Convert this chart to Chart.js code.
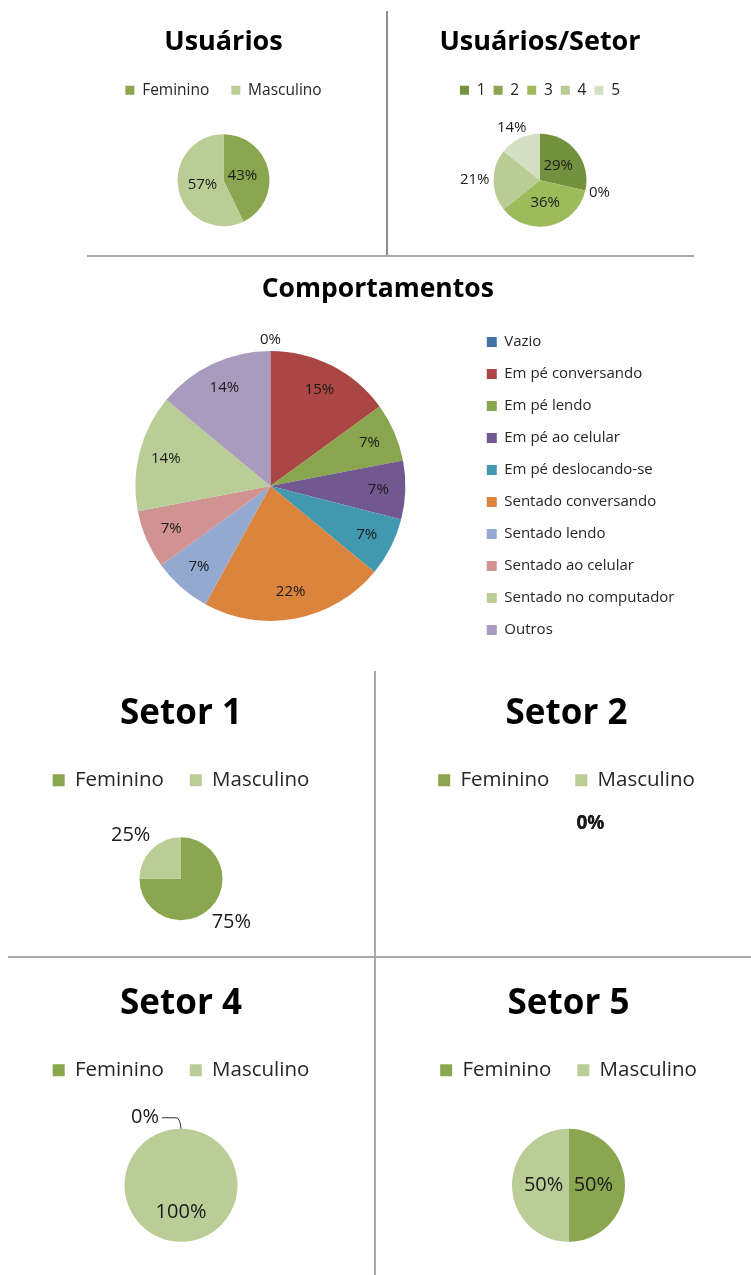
<!DOCTYPE html>
<html lang="pt-BR">
<head>
<meta charset="utf-8">
<title>Usuários e comportamentos</title>
<script src="https://cdn.jsdelivr.net/npm/chart.js@4.4.1/dist/chart.umd.min.js"></script>
<style>
  html, body { margin: 0; padding: 0; background: #fff; overflow: hidden; }
  body { position: relative; width: 751px; height: 1275px; }
  canvas { position: absolute; }
  .linha { position: absolute; background: #aaaaaa; }
</style>
</head>
<body>
<!-- linhas de separação entre os gráficos -->
<div class="linha" style="left:386px;top:11px;width:2px;height:245px;background:#8e8e8e"></div>
<div class="linha" style="left:87px;top:255px;width:607px;height:2px;"></div>
<div class="linha" style="left:374px;top:671px;width:2px;height:604px;"></div>
<div class="linha" style="left:8px;top:956px;width:743px;height:2px;"></div>

<canvas id="gUsuarios" width="327" height="245" style="left:60px;top:10px"></canvas>
<canvas id="gUsuariosSetor" width="306" height="245" style="left:390px;top:10px"></canvas>
<canvas id="gComportamentos" width="751" height="406" style="left:0px;top:258px"></canvas>
<canvas id="gSetor1" width="362" height="285" style="left:3px;top:672px"></canvas>
<canvas id="gSetor2" width="369" height="285" style="left:386px;top:672px"></canvas>
<canvas id="gSetor4" width="362" height="320" style="left:3px;top:960px"></canvas>
<canvas id="gSetor5" width="365" height="320" style="left:388px;top:960px"></canvas>

<script>
// Dados
const generos = ['Feminino', 'Masculino'];
const usuariosGenero = [6, 8];

const setores = ['1', '2', '3', '4', '5'];
const usuariosPorSetor = [4, 0, 5, 3, 2];

const comportamentos = [
    'Vazio', 'Em pé conversando', 'Em pé lendo', 'Em pé ao celular', 'Em pé deslocando-se',
    'Sentado conversando', 'Sentado lendo', 'Sentado ao celular', 'Sentado no computador', 'Outros'
];
const comportamentosPct = [0, 15, 7, 7, 7, 22, 7, 7, 14, 14];

const setor1Genero = [3, 1];
const setor2Genero = [0, 0];
const setor4Genero = [0, 3];
const setor5Genero = [1, 1];

// Cores
const corFeminino = '#8aa64e';
const corMasculino = '#bacd96';
const coresSetor = ['#74913f', '#8aa64e', '#9dbb5b', '#b9cc95', '#d4e0c3'];
const coresComportamentos = ['#4572a7', '#aa4643', '#89a54e', '#71588f', '#4198af',
    '#db843d', '#93a9cf', '#d19392', '#b9cd96', '#a99bbd'];

const fonte = "'Open Sans', sans-serif";
Chart.defaults.font.family = fonte;
Chart.defaults.animation = false;

// Plugin para escrever as porcentagens de cada fatia
// pos: número = dentro (fração do raio), 'fora' = fora da pizza, 'guia' = fora com linha guia
const rotulosPlugin = {
    id: 'rotulos',
    afterDatasetsDraw(chart, args, opts) {
        if (!opts.pos) return;
        const ctx = chart.ctx;
        const meta = chart.getDatasetMeta(0);
        const dados = chart.data.datasets[0].data;
        const total = dados.reduce((a, b) => a + b, 0);
        const folga = opts.folga || 4;
        const desloc = opts.desloc || 0;
        ctx.save();
        ctx.font = (opts.bold ? 'bold ' : '') + opts.size + 'px ' + fonte;
        ctx.fillStyle = '#1a1a1a';
        ctx.strokeStyle = '#333';
        ctx.lineWidth = 1;
        ctx.textBaseline = 'middle';
        ctx.textAlign = 'center';
        meta.data.forEach((arco, i) => {
            const pos = opts.pos[i];
            const texto = (total ? Math.round(dados[i] / total * 100) : 0) + '%';
            const a = (arco.startAngle + arco.endAngle) / 2;
            const c = Math.cos(a), s = Math.sin(a);
            const r = arco.outerRadius;
            const w = ctx.measureText(texto).width;
            const h = opts.size;
            if (pos === 'guia') {
                // rótulo com linha guia (fatia de 0%)
                const x0 = arco.x + c * r, y0 = arco.y + s * r;
                const x1 = x0 - 5, y1 = y0 - 11;
                const x2 = x1 - 14;
                ctx.beginPath();
                ctx.moveTo(x0, y0);
                ctx.quadraticCurveTo(x0 - 1, y1, x1, y1);
                ctx.lineTo(x2, y1);
                ctx.stroke();
                ctx.textAlign = 'right';
                ctx.fillText(texto, x2 - 3, y1);
                ctx.textAlign = 'center';
            } else if (pos === 'fora') {
                // fora da pizza
                const px = arco.x + c * (r + folga);
                const py = arco.y + s * (r + folga);
                ctx.fillText(texto, px + c * w / 2 + desloc, py + s * h / 2);
            } else {
                // dentro da pizza
                ctx.fillText(texto, arco.x + c * r * pos, arco.y + s * r * pos);
            }
        });
        ctx.restore();
    }
};

// Função para criar cada gráfico de pizza
function criarPizza(id, cfg) {
    const ctx = document.getElementById(id).getContext('2d');
    return new Chart(ctx, {
        type: 'pie',
        data: {
            labels: cfg.labels,
            datasets: [{
                data: cfg.data,
                backgroundColor: cfg.cores,
                borderWidth: 0,
                radius: cfg.raio
            }]
        },
        options: {
            responsive: false,
            events: [],
            layout: { padding: cfg.margem || 0 },
            plugins: {
                title: {
                    display: true,
                    text: cfg.titulo,
                    color: '#000',
                    font: { size: cfg.tituloTam, weight: 'bold', family: fonte },
                    padding: cfg.tituloPad
                },
                legend: {
                    position: cfg.legendaPos || 'top',
                    fullSize: cfg.legendaPos !== 'right',
                    labels: {
                        color: '#262626',
                        font: { size: cfg.legendaTam, family: fonte },
                        boxWidth: cfg.caixa,
                        boxHeight: cfg.caixa,
                        padding: cfg.legendaPad
                    }
                },
                tooltip: { enabled: false },
                rotulos: cfg.rotulos
            }
        },
        plugins: [rotulosPlugin]
    });
}

// Usuários
criarPizza('gUsuarios', {
    labels: generos, data: usuariosGenero, cores: [corFeminino, corMasculino], raio: 46,
    titulo: 'Usuários', tituloTam: 27, tituloPad: { top: 16, bottom: 2 },
    legendaTam: 15.5, caixa: 9, legendaPad: 22,
    margem: { bottom: 2.5 },
    rotulos: { size: 15, pos: [0.42, 0.47] }
});

// Usuários/Setor
criarPizza('gUsuariosSetor', {
    labels: setores, data: usuariosPorSetor, cores: coresSetor, raio: 46.5,
    titulo: 'Usuários/Setor', tituloTam: 27, tituloPad: { top: 16, bottom: 16 },
    legendaTam: 15.5, caixa: 9, legendaPad: 8,
    margem: { bottom: 2.5, right: 6 },
    rotulos: { size: 15, pos: [0.5, 'fora', 0.5, 'fora', 'fora'] }
});

// Comportamentos
criarPizza('gComportamentos', {
    labels: comportamentos, data: comportamentosPct, cores: coresComportamentos, raio: 135,
    titulo: 'Comportamentos', tituloTam: 26.5, tituloPad: { top: 16, bottom: 4 },
    legendaPos: 'right', legendaTam: 15, caixa: 10, legendaPad: 17,
    margem: { left: 71, right: 66.5, bottom: 2 },
    rotulos: { size: 15, pos: ['fora', 0.8, 0.8, 0.8, 0.8, 0.8, 0.8, 0.8, 0.8, 0.8] }
});

// Setores 1, 2, 4 e 5
criarPizza('gSetor1', {
    labels: generos, data: setor1Genero, cores: [corFeminino, corMasculino], raio: 41.5,
    titulo: 'Setor 1', tituloTam: 35, tituloPad: { top: 21, bottom: 9 },
    legendaTam: 20.5, caixa: 12, legendaPad: 26,
    margem: { right: 6 },
    rotulos: { size: 20, folga: 10, pos: ['fora', 'fora'] }
});

criarPizza('gSetor2', {
    labels: generos, data: setor2Genero, cores: [corFeminino, corMasculino], raio: 41.5,
    titulo: 'Setor 2', tituloTam: 35, tituloPad: { top: 21, bottom: 9 },
    legendaTam: 20.5, caixa: 12, legendaPad: 26,
    margem: { right: 8 },
    rotulos: { size: 19, bold: true, folga: 4, desloc: 24, pos: ['fora', 'fora'] }
});

criarPizza('gSetor4', {
    labels: generos, data: setor4Genero, cores: [corFeminino, corMasculino], raio: 56.5,
    titulo: 'Setor 4', tituloTam: 35, tituloPad: { top: 23, bottom: 9 },
    legendaTam: 20.5, caixa: 12, legendaPad: 26,
    margem: { right: 6 },
    rotulos: { size: 20, pos: ['guia', 0.47] }
});

criarPizza('gSetor5', {
    labels: generos, data: setor5Genero, cores: [corFeminino, corMasculino], raio: 56.5,
    titulo: 'Setor 5', tituloTam: 35, tituloPad: { top: 23, bottom: 9 },
    legendaTam: 20.5, caixa: 12, legendaPad: 26,
    margem: { right: 4 },
    rotulos: { size: 20, pos: [0.44, 0.44] }
});
</script>
</body>
</html>
